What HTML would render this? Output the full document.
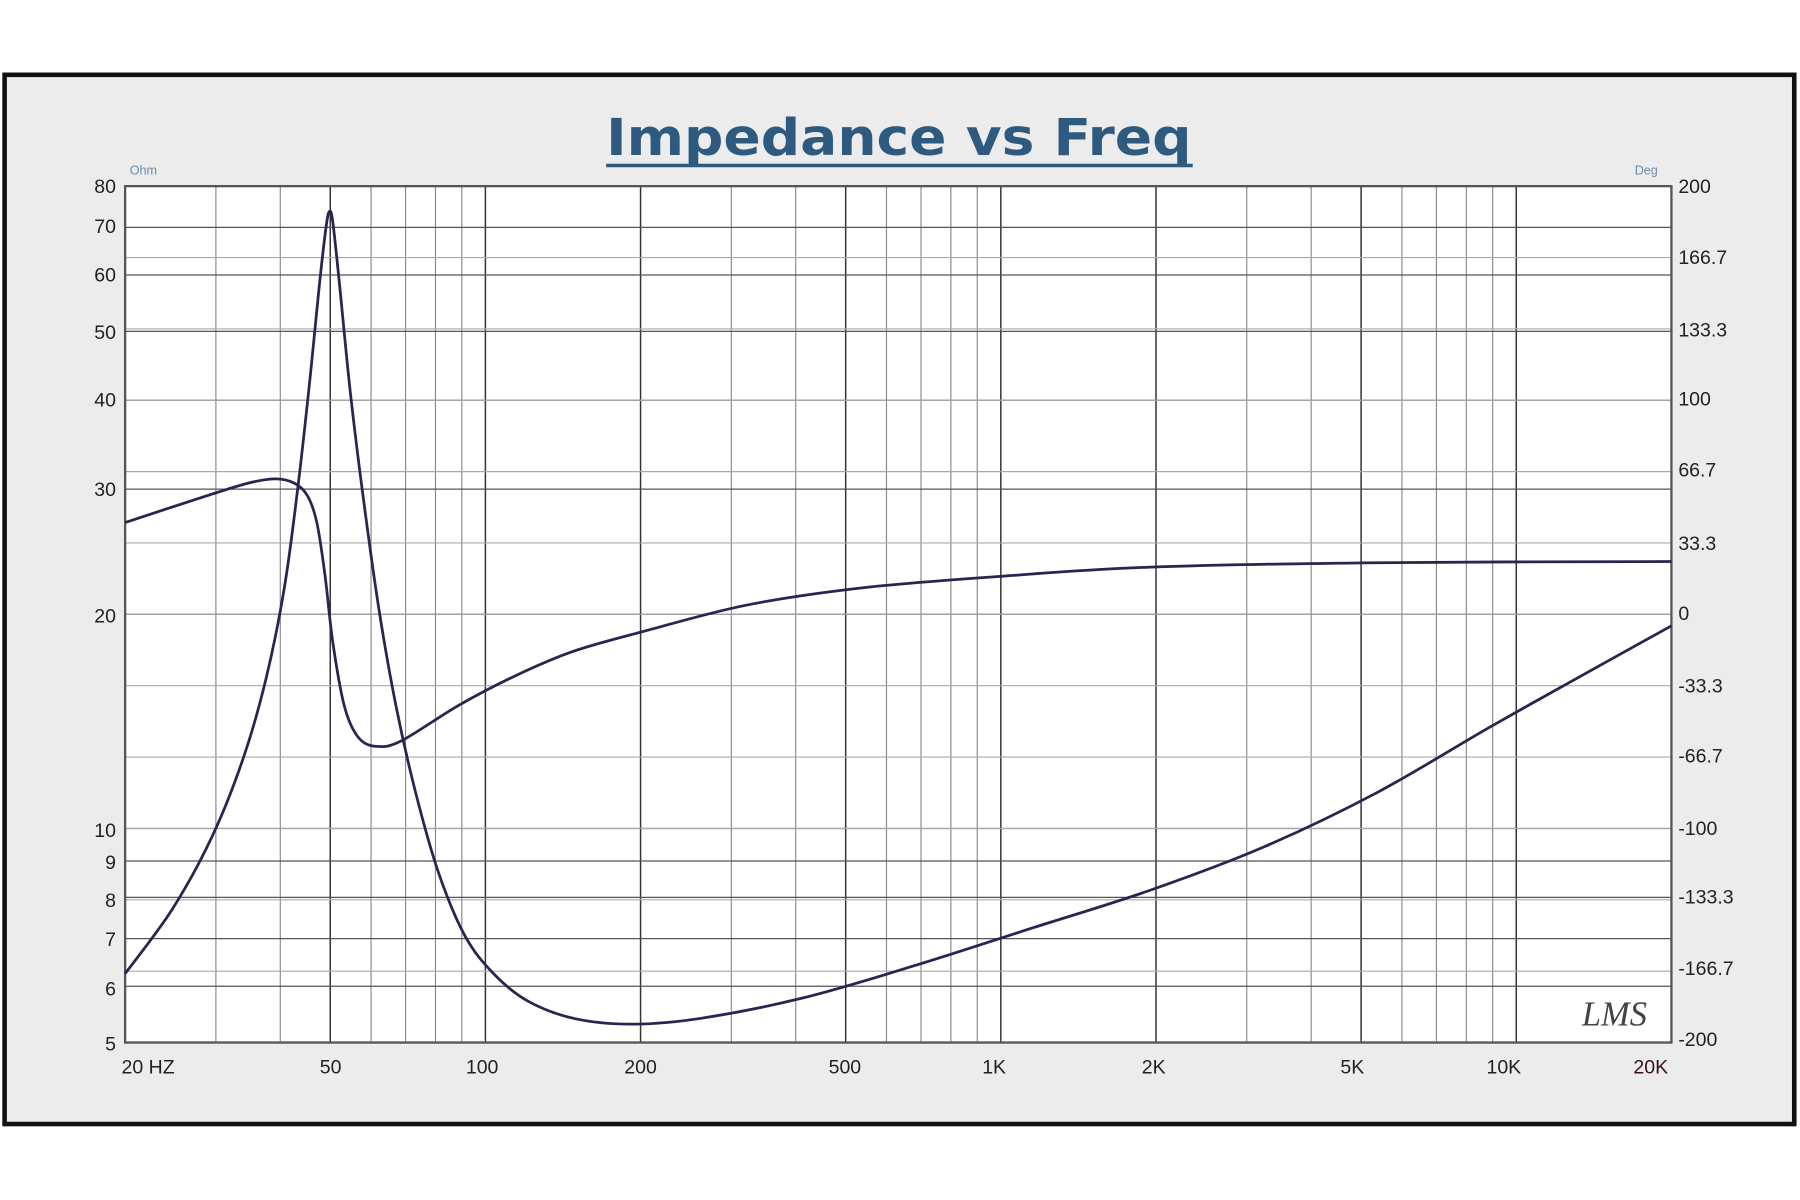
<!DOCTYPE html>
<html><head><style>html,body{margin:0;padding:0;background:#fff;width:1800px;height:1200px;overflow:hidden}</style></head>
<body>
<svg id="s" xmlns="http://www.w3.org/2000/svg" width="1800" height="1200" viewBox="0 0 1568 1045">
<rect x="0" y="0" width="1568" height="1045" fill="#fff"/>
<rect x="4" y="65" width="1559" height="914" fill="#ececec" stroke="#111" stroke-width="4"/>
<rect x="109" y="162" width="1347" height="746" fill="#fff"/>
<g id="grid"></g>
<rect x="109" y="162" width="1347" height="746" fill="none" stroke="#555" stroke-width="2"/>
<text x="783" y="135" text-anchor="middle" font-family="DejaVu Sans, sans-serif" font-weight="bold" font-size="44" fill="#2d5a7e" textLength="510" lengthAdjust="spacingAndGlyphs">Impedance vs Freq</text>
<line x1="528" y1="144" x2="1039" y2="144" stroke="#2d5a7e" stroke-width="3"/>
<text x="113" y="152" font-family="Liberation Sans, sans-serif" font-size="11" fill="#6a8db0">Ohm</text>
<text x="1424" y="152" font-family="Liberation Sans, sans-serif" font-size="11" fill="#6a8db0">Deg</text>
<g font-family="Liberation Sans, sans-serif" font-size="17" fill="#222" text-anchor="end">
<text x="101" y="168">80</text><text x="101" y="203">70</text><text x="101" y="245">60</text><text x="101" y="295">50</text><text x="101" y="354">40</text><text x="101" y="432">30</text><text x="101" y="542">20</text><text x="101" y="729">10</text><text x="101" y="757">9</text><text x="101" y="790">8</text><text x="101" y="824">7</text><text x="101" y="867">6</text><text x="101" y="915">5</text>
</g>
<g font-family="Liberation Sans, sans-serif" font-size="17" fill="#222">
<text x="1462" y="168">200</text><text x="1462" y="230">166.7</text><text x="1462" y="293">133.3</text><text x="1462" y="353">100</text><text x="1462" y="415">66.7</text><text x="1462" y="479">33.3</text><text x="1462" y="540">0</text><text x="1462" y="603">-33.3</text><text x="1462" y="664">-66.7</text><text x="1462" y="727">-100</text><text x="1462" y="787">-133.3</text><text x="1462" y="849">-166.7</text><text x="1462" y="911">-200</text>
</g>
<g font-family="Liberation Sans, sans-serif" font-size="17" fill="#222" text-anchor="middle">
<text x="129" y="935">20 HZ</text><text x="288" y="935">50</text><text x="420" y="935">100</text><text x="558" y="935">200</text><text x="736" y="935">500</text><text x="866" y="935">1K</text><text x="1005" y="935">2K</text><text x="1178" y="935">5K</text><text x="1310" y="935">10K</text><text x="1438" y="935" fill="#3a1020">20K</text>
</g>
<text x="1378" y="893" font-family="Liberation Serif, serif" font-style="italic" font-size="30" fill="#444">LMS</text>
<path id="imp" fill="none" stroke="#2a2450" stroke-width="2.4" stroke-linejoin="round"/>
<path id="ph" fill="none" stroke="#2a2450" stroke-width="2.4" stroke-linejoin="round"/>
</svg>
<script>
var g=document.getElementById('grid'),ns='http://www.w3.org/2000/svg';
function ln(x1,y1,x2,y2,c,w){var l=document.createElementNS(ns,'line');l.setAttribute('x1',x1);l.setAttribute('y1',y1);l.setAttribute('x2',x2);l.setAttribute('y2',y2);l.setAttribute('stroke',c);l.setAttribute('stroke-width',w);g.appendChild(l);}
var L=109,R=1456,T=162,B=908,dec=(R-L)/3;
[1,10,100,1000].forEach(function(m){for(var k=2;k<=10;k++){var f=k*m;if(f<20||f>20000)continue;var x=L+dec*Math.log10(f/20);var major=(k==5||k==10||k==2);ln(x,T,x,B,major?'#333':'#888',major?1.3:1);}});
[5,6,7,8,9,10,20,30,40,50,60,70,80].forEach(function(v){var y=B-(B-T)*Math.log10(v/5)/Math.log10(16);ln(L,y,R,y,'#555',1.1);});
for(var i=1;i<12;i++){var y=T+(B-T)*i/12;ln(L,y,R,y,'#aaa',1);}
function cr(p){var d='M'+p[0][0]+','+p[0][1];for(var i=0;i<p.length-1;i++){var p0=p[i-1]||p[i],p1=p[i],p2=p[i+1],p3=p[i+2]||p2;d+=' C'+(p1[0]+(p2[0]-p0[0])/6)+','+(p1[1]+(p2[1]-p0[1])/6)+' '+(p2[0]-(p3[0]-p1[0])/6)+','+(p2[1]-(p3[1]-p1[1])/6)+' '+p2[0]+','+p2[1];}return d;}
document.getElementById('imp').setAttribute('d',cr([[109,848],[150,792],[185,728],[212,660],[232,590],[248,510],[260,420],[270,330],[278,250],[284,198],[287,184],[290,194],[296,250],[305,340],[316,430],[330,530],[345,615],[362,690],[382,760],[405,815],[430,848],[460,872],[500,887],[550,892],[610,887],[700,869],[800,840],[900,808],[1000,776],[1100,738],[1200,690],[1300,632],[1400,576],[1456,545]]));
document.getElementById('ph').setAttribute('d',cr([[109,455],[170,435],[215,421],[240,417],[257,421],[268,432],[276,455],[283,500],[290,560],[300,615],[312,642],[328,650],[350,645],[400,614],[450,588],[500,567],[560,550],[650,527],[750,512],[870,502],[1000,494],[1200,490],[1456,489]]));
</script>
</body></html>
